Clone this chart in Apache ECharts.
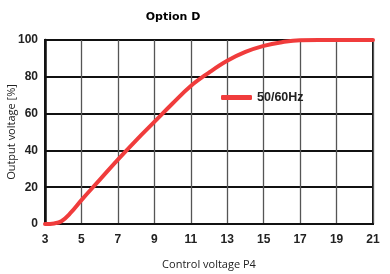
<!DOCTYPE html>
<html><head><meta charset="utf-8">
<script src="https://cdn.jsdelivr.net/npm/echarts@6/dist/echarts.min.js"></script>
<style>html,body{margin:0;padding:0;background:#fff}#c{width:390px;height:274px}</style>
</head><body><div id="c"></div>
<script>
const xValues = [3, 3.5, 3.9, 4.4, 5, 6, 7, 8, 9, 10, 11, 12, 13, 14, 15, 16, 17, 18, 19, 20, 21];
const outputPct = [0, 0.3, 1.5, 6, 13, 24, 35, 45.5, 55.5, 65.5, 75, 82.3, 88.7, 93.5, 96.8, 98.8, 99.9, 100, 100, 100, 100];
const seriesName = '50/60Hz';
const data = xValues.map((x, i) => [x, outputPct[i]]);
const tickFont = '"Liberation Sans Narrow", "Liberation Sans", Arial, sans-serif';
const chart = echarts.init(document.getElementById('c'), null, {renderer: 'canvas'});
chart.setOption({
  animation: false,
  title: {text: 'Option D', left: 168, top: 7, textAlign: 'center',
    textStyle: {fontSize: 11, fontWeight: 'bold', color: '#000', fontFamily: 'DejaVu Sans'}},
  legend: {data: [{name: seriesName, icon: 'roundRect'}], left: 216, top: 86, itemWidth: 31, itemHeight: 5, itemGap: 4,
    textStyle: {fontSize: 12.5, color: '#222', fontFamily: tickFont, fontWeight: 'bold'}},
  grid: {left: 45, right: 17, top: 40, bottom: 50, show: true, borderColor: '#111', borderWidth: 2,
    containLabel: false, outerBoundsMode: 'none'},
  xAxis: {type: 'value', min: 3, max: 21, interval: 2,
    name: 'Control voltage P4', nameLocation: 'middle', nameGap: 35, nameMoveOverlap: false,
    nameTextStyle: {fontSize: 11, color: '#222', fontFamily: 'Open Sans'},
    axisLine: {show: true, lineStyle: {color: '#111', width: 2}},
    axisTick: {show: false},
    axisLabel: {margin: 10, fontSize: 12, color: '#222', fontFamily: tickFont, fontWeight: 'bold'},
    splitLine: {show: true, lineStyle: {color: '#555', width: 1.3}}},
  yAxis: {type: 'value', min: 0, max: 100, interval: 20,
    name: 'Output voltage [%]', nameLocation: 'middle', nameGap: 28, nameMoveOverlap: false,
    nameTextStyle: {fontSize: 11, color: '#222', fontFamily: 'Open Sans'},
    axisLine: {show: true, lineStyle: {color: '#111', width: 2.5}},
    axisTick: {show: false},
    axisLabel: {margin: 7, fontSize: 12, color: '#222', fontFamily: tickFont, fontWeight: 'bold'},
    splitLine: {show: true, lineStyle: {color: '#111', width: 2}}},
  series: [{name: seriesName, type: 'line', data: data, smooth: 0.4, showSymbol: false,
    lineStyle: {color: '#f03c3c', width: 4, cap: 'round'}, itemStyle: {color: '#f03c3c'}}]
});
</script></body></html>
